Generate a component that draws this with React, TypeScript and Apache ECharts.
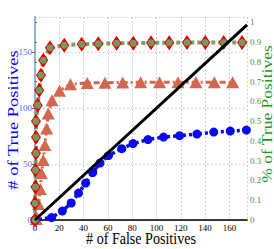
import React, { useEffect, useRef } from "react";
import * as echarts from "echarts";

const xTicks = [0, 20, 40, 60, 80, 100, 120, 140, 160];
const leftTicks = [0, 50, 100, 150];

const blueX = [0, 13.7, 22.5, 29.8, 35.8, 41.7, 47.5, 53.5, 60.5, 71.4, 80.7, 93, 105.8, 119, 133.3, 147.1, 160.7, 174];
const blueY = [0, 2.2, 8, 15.2, 24.1, 33, 42.4, 50.9, 57.6, 63.8, 68.3, 71.9, 74.1, 75.4, 76.8, 78.6, 79.5, 80.4];

const diamondX = [0, 0, 0.4, 0.4, 0.8, 0.8, 0.8, 2.2, 3.5, 4.9, 6.8, 12.3, 24.1, 38.4, 52.1, 67.1, 80.9, 95.5, 110.5, 125.1, 140.2, 155.3, 170.4, 174.5];
const diamondY = [0, 15, 29.5, 44.6, 59.6, 74, 88.4, 102.7, 116, 129.5, 142.9, 154, 156.3, 157.1, 157.6, 158, 158, 158.5, 158.5, 158.7, 158.7, 158.7, 158.7, 158.7];

const triX = [1, 2.9, 4.4, 5.3, 6.8, 8.2, 9.6, 10.9, 14, 20.2, 29.2, 43, 57.6, 72.2, 87, 102.5, 117.7, 132.5, 147.6, 162.7];
const triY = [1, 14.3, 27.7, 41.7, 53.6, 67, 81.9, 95.3, 107.1, 115.6, 121.4, 122.6, 122.8, 122.9, 123.2, 123.2, 123.2, 123.2, 123.2, 123.2];

const diagX = [0, 174.5];
const diagY = [0, 174.5];

const X_MAX = 174.5;
const LEFT_MAX = 181.5;
const RIGHT_MAX = 1.027;

const xTitle = "# of False Positives";
const leftTitle = "# of True Positives";
const rightTitle = "% of True Positives";

const zip = (xs: number[], ys: number[]) => xs.map((x, i) => [x, ys[i]]);
const FONT = "Liberation Serif";
const SQUEEZE = 0.8;

export default function App() {
  const ref = useRef<HTMLDivElement>(null);
  useEffect(() => {
    const chart = echarts.init(ref.current!, null, { renderer: "svg" });
    const diamondData = zip(diamondX, diamondY).slice(0, 23);
    chart.setOption({
      animation: false,
      textStyle: { fontFamily: FONT },
      grid: { left: 35, right: 27, top: 17, bottom: 29, containLabel: false, outerBoundsMode: "none" },
      graphic: [
        {
          type: "text",
          x: 141,
          y: 239,
          scaleX: 0.88,
          style: { text: xTitle, fontFamily: FONT, fontSize: 16, fill: "#000", align: "center", verticalAlign: "middle" },
        },
        {
          type: "text",
          x: 13.5,
          y: 120,
          rotation: Math.PI / 2,
          scaleY: SQUEEZE,
          style: { text: leftTitle, fontFamily: FONT, fontSize: 18.5, fill: "#0000ff", align: "center", verticalAlign: "middle" },
        },
        {
          type: "text",
          x: 267,
          y: 114,
          rotation: Math.PI / 2,
          scaleY: SQUEEZE,
          style: { text: rightTitle, fontFamily: FONT, fontSize: 17.5, fill: "#1f9a1f", align: "center", verticalAlign: "middle" },
        },
      ],
      xAxis: [
        {
          type: "value",
          min: 0,
          max: X_MAX,
          interval: 20,
          axisLine: { lineStyle: { color: "#000", width: 1.5 } },
          axisTick: { show: false },
          axisLabel: {
            fontFamily: FONT,
            fontSize: 9,
            color: "#000",
            margin: 3,
            showMaxLabel: false,
            formatter: (v: number) => (xTicks.includes(v) ? String(v) : ""),
          },
          splitLine: { show: true, lineStyle: { color: "#c0c0c0", type: [1.5, 2.5], width: 1 } },
        },
        {
          type: "value",
          position: "top",
          min: 0,
          max: X_MAX,
          axisLine: { show: true, lineStyle: { color: "#333", width: 1.2 } },
          axisTick: { show: false },
          axisLabel: { show: false },
          splitLine: { show: false },
        },
      ],
      yAxis: [
        {
          type: "value",
          min: 0,
          max: LEFT_MAX,
          interval: 50,
          axisLine: { show: true, lineStyle: { color: "#2222ff", width: 1 } },
          axisTick: { show: true, length: 3, lineStyle: { color: "#5555ff" } },
          axisLabel: {
            fontFamily: FONT,
            fontSize: 9,
            color: "#6060ff",
            margin: 3,
            showMaxLabel: false,
            formatter: (v: number) => (leftTicks.includes(v) ? String(v) : ""),
          },
          splitLine: { show: true, lineStyle: { color: "#c0c0f2", type: [1.5, 2.5], width: 1 } },
        },
        {
          type: "value",
          position: "right",
          min: 0,
          max: RIGHT_MAX,
          interval: 0.1,
          axisLine: { show: true, lineStyle: { color: "#94b4cc", width: 2 } },
          axisTick: { show: true, length: 2, lineStyle: { color: "#2a9a2a" } },
          axisLabel: {
            fontFamily: FONT,
            fontSize: 9,
            color: "#3a9a3a",
            margin: 3,
            showMaxLabel: false,
            formatter: (v: number) => {
              const r = Math.round(v * 10) / 10;
              if (Math.abs(r - v) > 1e-6) return "";
              return r === 0 ? "0" : r === 1 ? "1" : r.toFixed(1);
            },
          },
          splitLine: { show: false },
        },
      ],
      series: [
        {
          type: "line",
          data: zip(triX, triY),
          symbol: "triangle",
          symbolSize: [13, 12],
          itemStyle: { color: "#d4674d" },
          lineStyle: { color: "#d4674d", width: 3, type: [6, 3, 2, 3] },
          z: 2,
        },
        {
          type: "line",
          data: zip(blueX, blueY),
          symbol: "circle",
          symbolSize: 9,
          itemStyle: { color: "#0a0aee" },
          lineStyle: { color: "#0a0aee", width: 3.5, type: [7, 3, 3, 3] },
          z: 3,
        },
        {
          type: "line",
          data: zip(diamondX, diamondY),
          symbol: "none",
          lineStyle: { color: "#7f9c66", width: 4, type: [4, 3] },
          z: 4,
        },
        {
          type: "line",
          data: diamondData,
          symbol: "diamond",
          symbolSize: [10, 15],
          itemStyle: { color: "#e00000" },
          lineStyle: { width: 0, opacity: 0 },
          z: 5,
        },
        {
          type: "line",
          data: diamondData,
          symbol: "circle",
          symbolSize: 7,
          itemStyle: { color: "#7a965e" },
          lineStyle: { width: 0, opacity: 0 },
          z: 6,
        },
        {
          type: "line",
          data: zip(diagX, diagY),
          symbol: "none",
          lineStyle: { color: "#000", width: 3 },
          z: 7,
        },
      ],
    });
    return () => chart.dispose();
  }, []);
  return (
    <div
      ref={ref}
      style={{ position: "fixed", left: 0, top: 0, width: 274, height: 249, background: "#fff" }}
    />
  );
}
